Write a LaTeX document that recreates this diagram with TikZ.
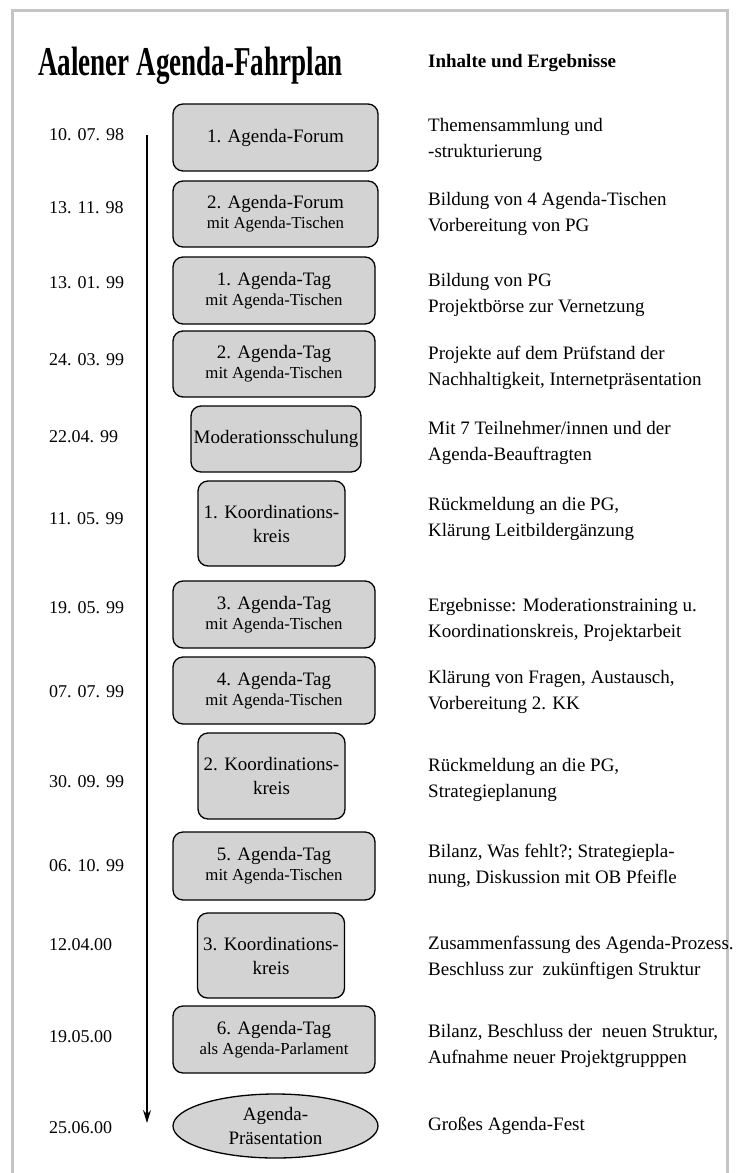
\documentclass[tikz,border=0pt]{standalone}
\usepackage{fontspec}
\setmainfont{Liberation Serif}
\usepackage{graphicx}
\usepackage{xcolor}
\usepackage{tikz}
\usetikzlibrary{arrows.meta,shapes.geometric}
\definecolor{boxfill}{RGB}{211,211,211}
\definecolor{framegray}{RGB}{196,196,196}
\newcommand{\subline}[1]{{\fontsize{16.8}{20}\selectfont #1}}

\begin{document}
\begin{tikzpicture}[
  x=1pt,y=-1pt,
  font=\fontsize{19}{24}\selectfont,
  box/.style={draw,line width=1.3pt,fill=boxfill,rounded corners=10pt,align=center,inner sep=0pt},
  wide/.style={box,minimum width=202pt,minimum height=67pt},
  mid/.style={box,minimum width=170pt,minimum height=66pt},
  koord/.style={box,minimum width=147pt,minimum height=86pt},
  fest/.style={ellipse,draw,line width=1.3pt,fill=boxfill,align=center,inner sep=0pt,
               minimum width=205pt,minimum height=64pt},
  date/.style={anchor=west,inner sep=0pt,font=\fontsize{18}{22}\selectfont},
  info/.style={anchor=base west,inner sep=0pt,align=left,font=\fontsize{19}{26}\selectfont},
  timeline/.style={-{Stealth[length=13pt,width=8pt]},line width=1.4pt},
  frame/.style={framegray,line width=3pt},
]
\useasboundingbox (0,0) rectangle (737,1173);
\draw[frame] (12,1173) -- (12,10) -- (727,10) -- (727,1173);

\node[anchor=base west,inner sep=0pt] (title) at (38,75)
  {\scalebox{0.66}[1]{\fontsize{41}{41}\selectfont\bfseries Aalener Agenda-Fahrplan}};
\node[anchor=base west,inner sep=0pt,font=\fontsize{19}{22}\selectfont\bfseries] (head) at (428,67)
  {Inhalte und Ergebnisse};

\node[wide,minimum width=205pt] (b1) at (275.5,137.5) {1. Agenda-Forum};
\node[wide,minimum width=205pt,minimum height=66pt] (b2) at (275.5,214) {2. Agenda-Forum\\[-4pt]\subline{mit Agenda-Tischen}};
\node[wide] (b3) at (274,290.5) {1. Agenda-Tag\\[-4pt]\subline{mit Agenda-Tischen}};
\node[wide,minimum height=66pt] (b4) at (274,364) {2. Agenda-Tag\\[-4pt]\subline{mit Agenda-Tischen}};
\node[mid] (b5) at (276,439) {Moderationsschulung};
\node[koord,minimum height=85pt] (b6) at (271.5,523.5) {1. Koordinations-\\kreis};
\node[wide] (b7) at (274,614.5) {3. Agenda-Tag\\[-4pt]\subline{mit Agenda-Tischen}};
\node[wide] (b8) at (274,690.5) {4. Agenda-Tag\\[-4pt]\subline{mit Agenda-Tischen}};
\node[koord] (b9) at (271.5,776) {2. Koordinations-\\kreis};
\node[wide,minimum height=68pt] (b10) at (274,866) {5. Agenda-Tag\\[-4pt]\subline{mit Agenda-Tischen}};
\node[koord,minimum height=85pt] (b11) at (271,955.5) {3. Koordinations-\\kreis};
\node[wide] (b12) at (274,1039.5) {6. Agenda-Tag\\[-4pt]\subline{als Agenda-Parlament}};
\node[fest] (b13) at (275.5,1126) {Agenda-\\Präsentation};

\node[date] (d1) at (49,135) {10. 07. 98};
\node[date] (d2) at (49,208) {13. 11. 98};
\node[date] (d3) at (49,283) {13. 01. 99};
\node[date] (d4) at (49,360) {24. 03. 99};
\node[date] (d5) at (49,437) {22.04. 99};
\node[date] (d6) at (49,519) {11. 05. 99};
\node[date] (d7) at (49,608) {19. 05. 99};
\node[date] (d8) at (49,692) {07. 07. 99};
\node[date] (d9) at (49,782) {30. 09. 99};
\node[date] (d10) at (49,866) {06. 10. 99};
\node[date] (d11) at (49,945) {12.04.00};
\node[date] (d12) at (49,1037) {19.05.00};
\node[date] (d13) at (49,1128) {25.06.00};

\node[info] (t1) at (428,157.5) {Themensammlung und\\-strukturierung};
\node[info] (t2) at (428,231.5) {Bildung von 4 Agenda-Tischen\\Vorbereitung von PG};
\node[info] (t3) at (428,312.5) {Bildung von PG\\Projektbörse zur Vernetzung};
\node[info] (t4) at (428,385.5) {Projekte auf dem Prüfstand der\\Nachhaltigkeit, Internetpräsentation};
\node[info] (t5) at (428,460) {Mit 7 Teilnehmer/innen und der\\Agenda-Beauftragten};
\node[info] (t6) at (428,536.5) {Rückmeldung an die PG,\\Klärung Leitbildergänzung};
\node[info] (t7) at (428,637) {Ergebnisse: Moderationstraining u.\\Koordinationskreis, Projektarbeit};
\node[info] (t8) at (428,709) {Klärung von Fragen, Austausch,\\Vorbereitung 2. KK};
\node[info] (t9) at (428,797) {Rückmeldung an die PG,\\Strategieplanung};
\node[info] (t10) at (428,883.5) {Bilanz, Was fehlt?; Strategiepla-\\nung, Diskussion mit OB Pfeifle};
\node[info] (t11) at (428,975.5) {Zusammenfassung des Agenda-Prozess.\\Beschluss zur~ zukünftigen Struktur};
\node[info] (t12) at (428,1063.5) {Bilanz, Beschluss der~ neuen Struktur,\\Aufnahme neuer Projektgrupppen};
\node[info] (t13) at (428,1130) {Großes Agenda-Fest};

\coordinate (tstart) at (147,135);
\coordinate (tend) at (147,1123);
\draw[timeline] (tstart) -- (tend);
\end{tikzpicture}
\end{document}
